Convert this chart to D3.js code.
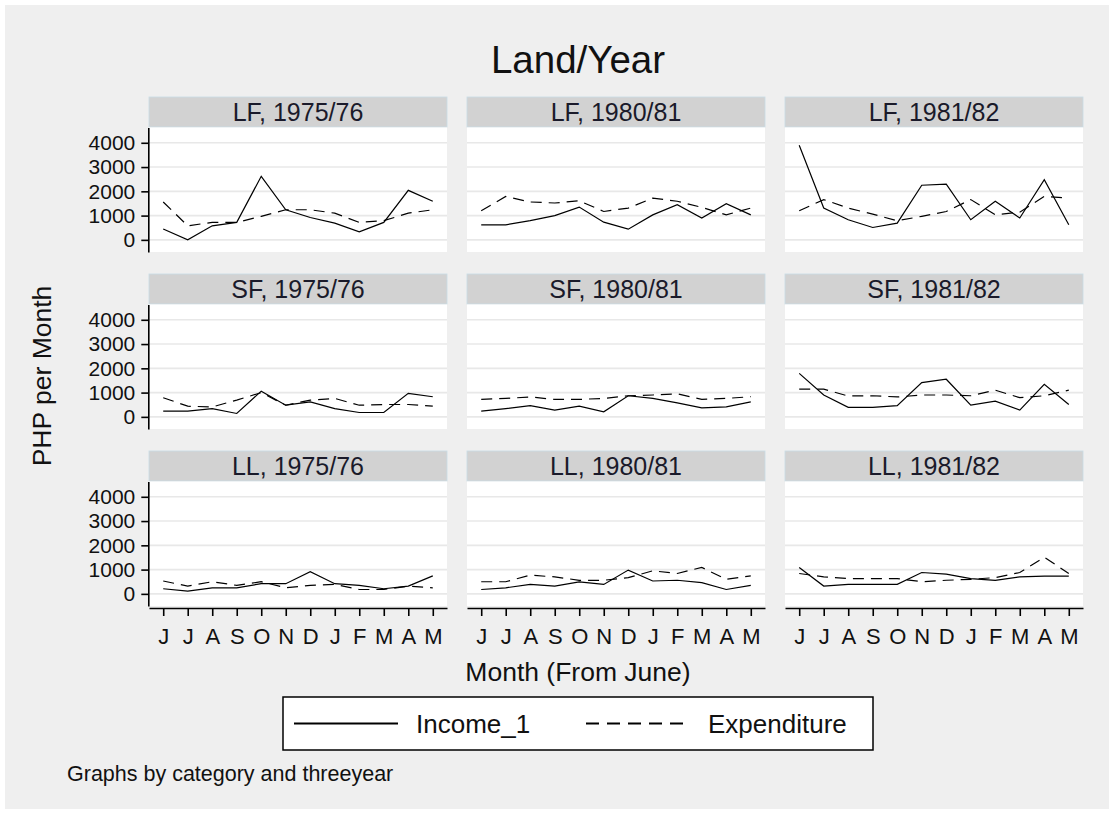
<!DOCTYPE html>
<html>
<head>
<meta charset="utf-8">
<script src="https://cdn.jsdelivr.net/npm/d3@7"></script>
<style>
  body { margin: 0; background: #ffffff; }
  text { font-family: "Liberation Sans", Arial, sans-serif; fill: #111; }
</style>
</head>
<body>
<div id="chart"></div>
<script>
var months = ["J","J","A","S","O","N","D","J","F","M","A","M"];
var categories = ["LF","SF","LL"];
var years = ["1975/76","1980/81","1981/82"];
var yTicks = [0, 1000, 2000, 3000, 4000];

// Income_1, one array per category / year
var income_LF_7576 = [450, 0, 580, 720, 2620, 1240, 920, 690, 330, 720, 2040, 1590];
var income_LF_8081 = [620, 620, 790, 1000, 1350, 730, 440, 1030, 1450, 900, 1490, 1030];
var income_LF_8182 = [3900, 1310, 830, 510, 690, 2250, 2300, 830, 1590, 900, 2480, 620];
var income_SF_7576 = [240, 240, 340, 140, 1060, 480, 620, 340, 180, 180, 970, 830];
var income_SF_8081 = [240, 340, 460, 280, 440, 210, 870, 760, 580, 370, 410, 620];
var income_SF_8182 = [1790, 900, 390, 390, 460, 1410, 1550, 480, 650, 280, 1340, 510];
var income_LL_7576 = [210, 110, 250, 250, 420, 420, 910, 420, 350, 210, 320, 740];
var income_LL_8081 = [180, 250, 390, 320, 490, 390, 980, 530, 560, 460, 180, 350];
var income_LL_8182 = [1090, 320, 390, 390, 390, 880, 810, 630, 560, 700, 730, 730];

// Expenditure
var expend_LF_7576 = [1560, 580, 720, 720, 970, 1240, 1240, 1100, 720, 790, 1100, 1240];
var expend_LF_8081 = [1200, 1790, 1560, 1520, 1610, 1170, 1310, 1720, 1590, 1340, 1030, 1310];
var expend_LF_8182 = [1200, 1660, 1310, 1060, 790, 970, 1170, 1660, 1030, 1140, 1790, 1720];
var expend_SF_7576 = [790, 440, 410, 690, 1000, 480, 690, 760, 480, 510, 510, 440];
var expend_SF_8081 = [720, 760, 820, 720, 720, 760, 870, 900, 950, 720, 760, 830];
var expend_SF_8182 = [1140, 1140, 860, 870, 820, 900, 900, 870, 1100, 790, 870, 1100];
var expend_LL_7576 = [530, 320, 500, 350, 500, 250, 350, 390, 180, 180, 320, 250];
var expend_LL_8081 = [500, 500, 770, 700, 560, 560, 670, 950, 840, 1090, 600, 740];
var expend_LL_8182 = [840, 700, 630, 630, 630, 500, 560, 600, 670, 880, 1510, 840];

var income = {
  LF: [income_LF_7576, income_LF_8081, income_LF_8182],
  SF: [income_SF_7576, income_SF_8081, income_SF_8182],
  LL: [income_LL_7576, income_LL_8081, income_LL_8182]
};
var expend = {
  LF: [expend_LF_7576, expend_LF_8081, expend_LF_8182],
  SF: [expend_SF_7576, expend_SF_8081, expend_SF_8182],
  LL: [expend_LL_7576, expend_LL_8081, expend_LL_8182]
};

var W = 1114, H = 814;
var panel = {left: 149, top: 97, width: 298, stripH: 30, plotH: 124.5, dx: 318, dy: 177};

var svg = d3.select("#chart").append("svg")
    .attr("width", W)
    .attr("height", H);

svg.append("rect")
    .attr("x", 5).attr("y", 5)
    .attr("width", W - 10).attr("height", H - 10)
    .attr("fill", "#efefef");

var x = d3.scalePoint()
    .domain(d3.range(months.length))
    .range([0, panel.width])
    .padding(0.58);

var y = d3.scaleLinear()
    .domain([-500, 4630])
    .range([panel.plotH, 0]);

var line = d3.line()
    .x(function(d, i) { return x(i); })
    .y(function(d) { return y(d); });

categories.forEach(function(cat, r) {
  years.forEach(function(yr, c) {
    var g = svg.append("g")
        .attr("transform", "translate(" + (panel.left + c * panel.dx) + "," + (panel.top + r * panel.dy) + ")");

    // strip header
    g.append("rect")
        .attr("width", panel.width)
        .attr("height", panel.stripH)
        .attr("fill", "#d2d2d2")
        .attr("stroke", "#c9dde6")
        .attr("stroke-width", 0.8);
    g.append("text")
        .attr("x", panel.width / 2)
        .attr("y", 23.5)
        .attr("text-anchor", "middle")
        .style("font-size", "25px")
        .style("fill", "#1a1a2a")
        .text(cat + ", " + yr);

    var p = g.append("g")
        .attr("transform", "translate(0," + (panel.stripH + 0.5) + ")");

    p.append("rect")
        .attr("width", panel.width)
        .attr("height", panel.plotH)
        .attr("fill", "#ffffff");

    p.selectAll(".grid")
      .data(yTicks)
      .enter()
      .append("line")
        .attr("x1", 0)
        .attr("x2", panel.width)
        .attr("y1", function(d) { return y(d); })
        .attr("y2", function(d) { return y(d); })
        .attr("stroke", "#e8e8e8")
        .attr("stroke-width", 1.6);

    p.append("path")
        .datum(expend[cat][c])
        .attr("d", line)
        .attr("fill", "none")
        .attr("stroke", "#000")
        .attr("stroke-width", 1.2)
        .attr("stroke-dasharray", "11,7");

    p.append("path")
        .datum(income[cat][c])
        .attr("d", line)
        .attr("fill", "none")
        .attr("stroke", "#000")
        .attr("stroke-width", 1.2);

    if (c == 0) {
      var ya = p.append("g")
          .attr("transform", "translate(-0.7,0)")
          .call(d3.axisLeft(y).tickValues(yTicks).tickFormat(d3.format("d"))
              .tickSize(7).tickSizeOuter(0).tickPadding(6));
      ya.select(".domain").attr("stroke-width", 1.6);
      ya.selectAll(".tick line").attr("stroke-width", 1.6);
      ya.selectAll("text")
          .style("font-size", "21px")
          .style("font-family", "'Liberation Sans', Arial, sans-serif")
          .attr("fill", "#111");
    }

    if (r == categories.length - 1) {
      var xa = p.append("g")
          .attr("transform", "translate(0," + (panel.plotH + 2) + ")")
          .call(d3.axisBottom(x).tickFormat(function(i) { return months[i]; })
              .tickSize(8).tickSizeOuter(0).tickPadding(12));
      xa.select(".domain").attr("stroke-width", 1.6);
      xa.selectAll(".tick line").attr("stroke-width", 1.6);
      xa.selectAll("text")
          .style("font-size", "22px")
          .style("font-family", "'Liberation Sans', Arial, sans-serif")
          .attr("fill", "#111");
    }
  });
});

// titles
svg.append("text")
    .attr("x", 578)
    .attr("y", 73)
    .attr("text-anchor", "middle")
    .style("font-size", "38.5px")
    .text("Land/Year");

svg.append("text")
    .attr("x", 578)
    .attr("y", 681)
    .attr("text-anchor", "middle")
    .style("font-size", "26.5px")
    .text("Month (From June)");

svg.append("text")
    .attr("transform", "translate(51,376) rotate(-90)")
    .attr("text-anchor", "middle")
    .style("font-size", "26.5px")
    .text("PHP per Month");

// legend
var lg = svg.append("g").attr("transform", "translate(283,697)");
lg.append("rect")
    .attr("width", 590)
    .attr("height", 53)
    .attr("fill", "#ffffff")
    .attr("stroke", "#000")
    .attr("stroke-width", 1.5);
lg.append("line")
    .attr("x1", 11).attr("x2", 115)
    .attr("y1", 26.5).attr("y2", 26.5)
    .attr("stroke", "#000")
    .attr("stroke-width", 2.2);
lg.append("text")
    .attr("x", 133)
    .attr("y", 36)
    .style("font-size", "26px")
    .text("Income_1");
lg.append("line")
    .attr("x1", 303).attr("x2", 407)
    .attr("y1", 26.5).attr("y2", 26.5)
    .attr("stroke", "#000")
    .attr("stroke-width", 2.2)
    .attr("stroke-dasharray", "13,8");
lg.append("text")
    .attr("x", 425)
    .attr("y", 36)
    .style("font-size", "26px")
    .text("Expenditure");

svg.append("text")
    .attr("x", 67)
    .attr("y", 781)
    .style("font-size", "21.5px")
    .text("Graphs by category and threeyear");
</script>
</body>
</html>
